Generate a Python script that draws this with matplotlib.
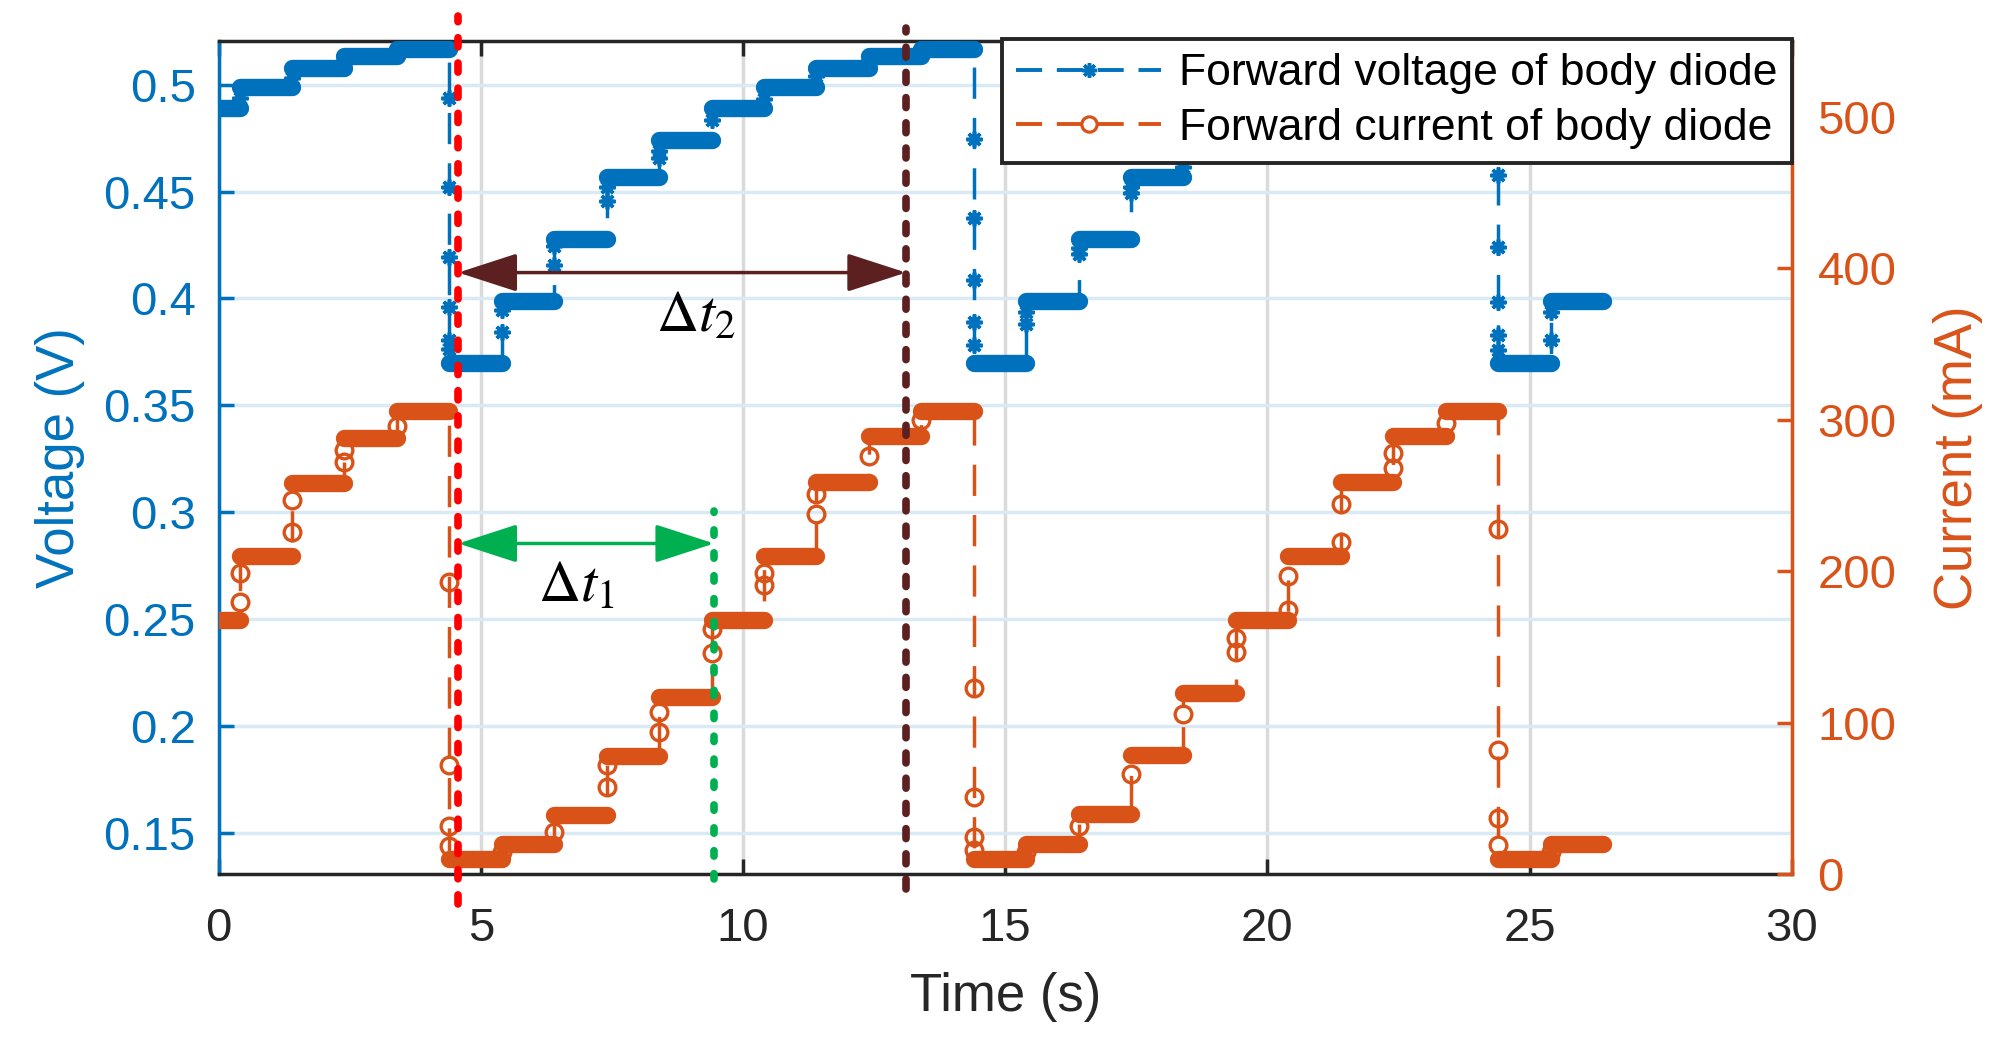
import numpy as np
import matplotlib
matplotlib.use("Agg")
import matplotlib.pyplot as plt
from matplotlib.lines import Line2D
from matplotlib.patches import FancyArrowPatch
from matplotlib.transforms import blended_transform_factory

plt.rcParams['font.family'] = ['Liberation Sans', 'DejaVu Sans']
plt.rcParams['mathtext.fontset'] = 'stix'

# ---------------- data ----------------
step_times = [0.0, 0.4, 1.4, 2.4, 3.4, 4.4, 5.4, 6.4, 7.4, 8.4, 9.4, 10.4, 11.4,
              12.4, 13.4, 14.4, 15.4, 16.4, 17.4, 18.4, 19.4, 20.4, 21.4, 22.4,
              23.4, 24.4, 25.4]
end_time = 26.4

voltage_levels = [0.489, 0.499, 0.508, 0.5135, 0.5166, 0.370, 0.399, 0.428, 0.457,
                  0.474, 0.489, 0.499, 0.508, 0.5135, 0.5166, 0.370, 0.399, 0.428,
                  0.457, 0.474, 0.489, 0.499, 0.508, 0.5135, 0.5166, 0.370, 0.399]

voltage_transitions = [
    [0.494], [0.503], [0.511], [0.515],
    [0.494, 0.4523, 0.4194, 0.396, 0.3807, 0.3761],
    [0.3845, 0.3946], [0.4158, 0.4245], [0.4454, 0.452], [0.4655, 0.469],
    [0.4833], [0.4935], [0.504], [0.511], [0.515],
    [0.4748, 0.4376, 0.4085, 0.389, 0.378],
    [0.388, 0.3935], [0.4206, 0.4235], [0.4492, 0.452], [0.4616, 0.466],
    [0.4833], [0.494], [0.504], [0.511], [0.515],
    [0.4905, 0.4578, 0.4242, 0.3984, 0.3828, 0.3758],
    [0.3805, 0.3937],
]

current_levels = [168, 210, 258, 288, 306, 10, 20, 39, 78, 117, 168, 210, 259,
                  289, 306, 10, 20, 40, 79, 120, 168, 210, 259, 289, 306, 10, 20]

current_transitions = [
    [180, 199], [226, 247], [272, 280], [296],
    [193, 72, 32, 19],
    [15], [28], [58, 72], [94, 107], [146, 162], [191, 199], [238, 251],
    [276], [300],
    [123, 51, 24.5, 16],
    [15], [32], [66], [106], [147, 156], [174.5, 197], [219.5, 244.5],
    [268, 278], [298],
    [228, 82, 37, 19.5],
    [15],
]

x_ticks = [0, 5, 10, 15, 20, 25, 30]
v_ticks = [0.15, 0.2, 0.25, 0.3, 0.35, 0.4, 0.45, 0.5]
v_ticklabels = ['0.15', '0.2', '0.25', '0.3', '0.35', '0.4', '0.45', '0.5']
i_ticks = [0, 100, 200, 300, 400, 500]

t_red = 4.57
t_green = 9.45
t_brown = 13.11
v_arrow_dt2 = 0.4121
v_arrow_dt1 = 0.2853

BLUE = '#0072BD'
ORANGE = '#D95319'
DARK = '#262626'
RED = '#FF0000'
GREEN = '#00B050'
BROWN = '#5C2020'


def build(levels, trans):
    t_line, y_line, t_band, y_band, t_mk, y_mk = [], [], [], [], [], []
    n = len(levels)
    for i in range(n):
        t0 = step_times[i]
        t1 = step_times[i + 1] if i + 1 < n else end_time
        t_line += [t0, t1]
        y_line += [levels[i], levels[i]]
        t_band += [t0, t1, np.nan]
        y_band += [levels[i], levels[i], np.nan]
        if i + 1 < n:
            for v in trans[i]:
                t_line.append(t1); y_line.append(v)
                t_mk.append(t1); y_mk.append(v)
    return t_line, y_line, t_band, y_band, t_mk, y_mk


fig = plt.figure(figsize=(19.93, 10.45), dpi=100)
ax = fig.add_axes([0.1097, 0.1632, 0.899 - 0.1097, 0.961 - 0.1632])
ax2 = ax.twinx()

ASTER = (8, 2, 0)
dash = (0, (9.0, 5.5))

# voltage (left)
tl, yl, tb, yb, tm, ym = build(voltage_levels, voltage_transitions)
ax.plot(tl, yl, color=BLUE, lw=2.5, ls=dash, zorder=3)
ax.plot(tb, yb, color=BLUE, lw=12.5, solid_capstyle='round', zorder=3)
ax.plot(tm, ym, ls='none', marker=ASTER, ms=11.5, mew=2.6, color=BLUE, zorder=4)

# current (right)
tl, yl, tb, yb, tm, ym = build(current_levels, current_transitions)
ax2.plot(tl, yl, color=ORANGE, lw=2.5, ls=dash, zorder=3)
ax2.plot(tb, yb, color=ORANGE, lw=12.5, solid_capstyle='round', zorder=3)
ax2.plot(tm, ym, ls='none', marker='o', ms=12, mew=2.4, mfc='none',
         mec=ORANGE, zorder=4)

# axes limits / ticks
ax.set_xlim(0, 30)
ax.set_ylim(0.1304, 0.5206)
ax2.set_ylim(0, 550)
ax.set_xticks(x_ticks)
ax.set_xticklabels([str(v) for v in x_ticks])
ax.set_yticks(v_ticks)
ax.set_yticklabels(v_ticklabels)
ax2.set_yticks(i_ticks)
ax2.set_yticklabels([str(v) for v in i_ticks])

ax.grid(True, axis='y', color='#D9EAF5', lw=2.5)
ax.grid(True, axis='x', color='#DADADA', lw=2.5)
ax.set_axisbelow(True)

for s in ['top', 'bottom']:
    ax.spines[s].set_color(DARK)
    ax.spines[s].set_linewidth(2.5)
    ax2.spines[s].set_visible(False)
ax.spines['left'].set_color(BLUE)
ax.spines['left'].set_linewidth(2.5)
ax.spines['right'].set_visible(False)
ax2.spines['left'].set_visible(False)
ax2.spines['right'].set_color(ORANGE)
ax2.spines['right'].set_linewidth(2.5)

ax.tick_params(axis='x', direction='in', top=True, bottom=True, length=11,
               width=2.5, colors=DARK, labelsize=34, pad=23.5)
ax.tick_params(axis='y', direction='in', left=True, right=False, length=11,
               width=2.5, colors=BLUE, labelsize=34, pad=16.5)
ax2.tick_params(axis='y', direction='in', right=True, length=11, width=2.5,
                colors=ORANGE, labelsize=34, pad=18.5)

ax.set_xlabel('Time (s)', fontsize=38, color=DARK, labelpad=15)
ax.set_ylabel('Voltage (V)', fontsize=38, color=BLUE, labelpad=13)
ax2.set_ylabel('Current (mA)', fontsize=38, color=ORANGE, labelpad=26)

# annotations (on top axes, in voltage coordinates)
bt = blended_transform_factory(ax.transData, ax.transAxes)
ax2.plot([t_red, t_red], [-0.035, 1.03], transform=bt, color=RED, lw=5.5,
         ls=(0, (1.2, 2.1)), dash_capstyle='round', clip_on=False, zorder=6)
ax2.plot([t_brown, t_brown], [-0.017, 1.015], transform=bt, color=BROWN, lw=5.5,
         ls=(0, (1.3, 2.0)), dash_capstyle='round', clip_on=False, zorder=6)
ax2.plot([t_green, t_green], [ax.get_ylim()[0] - 0.002, 0.3006],
         transform=ax.transData, color=GREEN, lw=5.5, ls=(0, (0.7, 2.3)),
         dash_capstyle='round', clip_on=False, zorder=6)

for (x0, x1, yv, col) in [(t_red, t_brown, v_arrow_dt2, BROWN),
                          (t_red, t_green, v_arrow_dt1, GREEN)]:
    arr = FancyArrowPatch((x0, yv), (x1, yv), transform=ax.transData,
                          arrowstyle='<|-|>,head_length=37,head_width=12',
                          color=col, lw=2.5, shrinkA=0, shrinkB=0, zorder=7,
                          mutation_scale=1)
    ax2.add_patch(arr)

ax2.text(8.34, 0.3845, r'$\Delta t_2$', transform=ax.transData, fontsize=42,
         ha='left', va='baseline', color='black', zorder=8)
ax2.text(6.09, 0.2583, r'$\Delta t_1$', transform=ax.transData, fontsize=42,
         ha='left', va='baseline', color='black', zorder=8)

# legend
h1 = Line2D([], [], color=BLUE, lw=2.8, ls=(0, (6.7, 3.8)), marker=ASTER,
            ms=10.5, mew=2.5)
h2 = Line2D([], [], color=ORANGE, lw=2.8, ls=(0, (6.7, 3.8)), marker='o', ms=11,
            mew=2.3, mfc='white', mec=ORANGE)
leg = ax2.legend([h1, h2], ['Forward voltage of body diode',
                            'Forward current of body diode'],
                 loc='upper right', bbox_to_anchor=(1.0, 1.002),
                 borderaxespad=0, fontsize=32, handlelength=3.26,
                 handletextpad=0.4, labelspacing=0.3, borderpad=0.32,
                 fancybox=False, framealpha=1, edgecolor=DARK, numpoints=1)
leg.get_frame().set_linewidth(2.8)
leg.set_zorder(20)

fig.savefig('out.png', dpi=100)
